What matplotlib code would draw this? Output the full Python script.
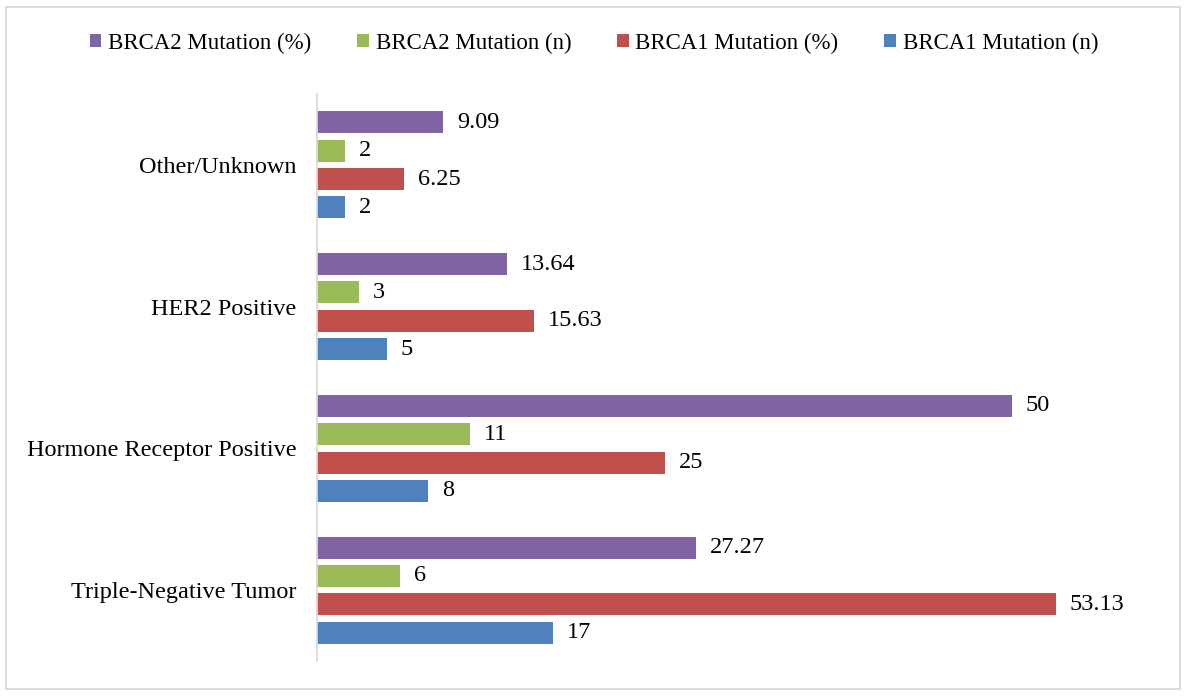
import numpy as np
import matplotlib
matplotlib.use("Agg")
import matplotlib.pyplot as plt
from matplotlib.patches import Rectangle

plt.rcParams["font.family"] = ["Liberation Serif", "DejaVu Serif"]

categories = ["Triple-Negative Tumor", "Hormone Receptor Positive", "HER2 Positive", "Other/Unknown"]
brca1_n = [17, 8, 5, 2]
brca1_pct = [53.13, 25, 15.63, 6.25]
brca2_n = [6, 11, 3, 2]
brca2_pct = [27.27, 50, 13.64, 9.09]
labels_n1 = ["17", "8", "5", "2"]
labels_p1 = ["53.13", "25", "15.63", "6.25"]
labels_n2 = ["6", "11", "3", "2"]
labels_p2 = ["27.27", "50", "13.64", "9.09"]

series = [
    ("BRCA1 Mutation (n)", brca1_n, labels_n1, "#4F81BD"),
    ("BRCA1 Mutation (%)", brca1_pct, labels_p1, "#C0504D"),
    ("BRCA2 Mutation (n)", brca2_n, labels_n2, "#9BBB59"),
    ("BRCA2 Mutation (%)", brca2_pct, labels_p2, "#8064A2"),
]

FS = 17.5

fig = plt.figure(figsize=(11.88, 6.96), dpi=100)
ax = fig.add_axes([317 / 1188, 1 - 661 / 696, (1151 - 317) / 1188, (661 - 94) / 696])

y = np.arange(len(categories))
step = 0.2
h = 0.155
handles = []
for i, (name, vals, labs, color) in enumerate(series):
    offs = (i - 1.5) * step
    bars = ax.barh(y + offs, vals, height=h, color=color, label=name)
    handles.append(bars)
    for yy, v, t in zip(y + offs, vals, labs):
        ax.text(v + 1.0, yy, t, ha="left", va="center", fontsize=FS)

ax.set_xlim(0, 60)
ax.set_ylim(-0.5, 3.5)
ax.set_yticks(y)
ax.set_yticklabels(categories, fontsize=FS)
ax.tick_params(axis="y", length=0, pad=15)
ax.set_xticks([])
for s in ["top", "right", "bottom"]:
    ax.spines[s].set_visible(False)
ax.spines["left"].set_color("#D9D9D9")
ax.spines["left"].set_linewidth(1.3)

fig.legend(handles=handles[::-1], labels=[s[0] for s in series][::-1],
           loc="center", bbox_to_anchor=(0.5, 1 - 43 / 696), ncol=4,
           frameon=False, fontsize=16.5, handlelength=0.5, handleheight=0.5,
           handletextpad=0.3, columnspacing=2.0)

fig.patches.append(Rectangle((6 / 1188, 1 - 689 / 696), 1174 / 1188, 682 / 696,
                             transform=fig.transFigure, fill=False,
                             edgecolor="#D9D9D9", linewidth=1.3))

fig.savefig("out.png", dpi=100, facecolor="white")
